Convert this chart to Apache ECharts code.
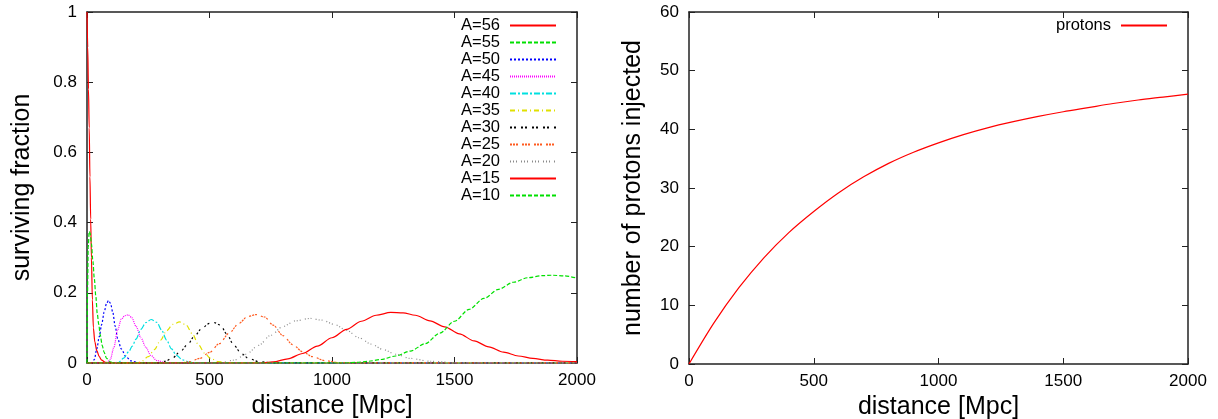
<!DOCTYPE html>
<html>
<head>
<meta charset="utf-8">
<script src="https://cdn.jsdelivr.net/npm/echarts@6/dist/echarts.min.js"></script>
<style>
  html, body { margin: 0; padding: 0; background: #fff; }
  #chart { width: 1218px; height: 419px; }
</style>
</head>
<body>
<div id="chart"></div>
<script>
// surviving fraction vs distance, [distance, fraction]
const a56 = [[0,1],[3,0.9],[6,0.78],[9,0.67],[12,0.53],[15,0.41],[18,0.3],[22,0.18],[26,0.1],[32,0.06],[40,0.035],[50,0.018],[60,0.008],[75,0.002],[100,0],[2000,0]];
const a55 = [[0,0],[2,0.2],[5,0.33],[9,0.375],[13,0.37],[18,0.34],[24,0.29],[30,0.24],[36,0.19],[42,0.14],[48,0.11],[54,0.08],[62,0.05],[70,0.03],[80,0.013],[95,0.003],[110,0],[2000,0]];
const a50 = [[0,0],[20,0],[30,0.01],[40,0.04],[50,0.075],[60,0.11],[70,0.145],[80,0.17],[88,0.178],[96,0.17],[105,0.145],[115,0.105],[125,0.07],[140,0.04],[160,0.017],[180,0.006],[210,0.001],[240,0],[2000,0]];
const a45 = [[0,0],[80,0],[95,0.01],[110,0.045],[125,0.095],[140,0.125],[155,0.135],[168,0.137],[182,0.13],[200,0.105],[220,0.072],[240,0.045],[260,0.022],[285,0.007],[320,0.001],[350,0],[2000,0]];
const a40 = [[0,0],[110,0],[130,0.003],[150,0.014],[170,0.032],[185,0.048],[200,0.068],[220,0.096],[240,0.115],[262,0.124],[285,0.116],[305,0.093],[325,0.065],[345,0.04],[365,0.022],[390,0.009],[420,0.002],[460,0],[2000,0]];
const a35 = [[0,0],[200,0],[220,0.003],[250,0.018],[275,0.038],[300,0.065],[325,0.092],[350,0.11],[378,0.117],[405,0.108],[430,0.083],[455,0.052],[480,0.028],[505,0.013],[535,0.004],[580,0],[2000,0]];
const a30 = [[0,0],[290,0],[320,0.005],[350,0.015],[380,0.032],[410,0.052],[440,0.078],[470,0.1],[500,0.113],[520,0.115],[545,0.108],[570,0.083],[600,0.05],[630,0.027],[660,0.013],[700,0.004],[760,0],[2000,0]];
const a25 = [[0,0],[380,0],[420,0.004],[460,0.013],[500,0.03],[540,0.055],[580,0.085],[620,0.113],[655,0.132],[690,0.138],[725,0.131],[760,0.108],[800,0.078],[840,0.052],[880,0.032],[920,0.018],[970,0.007],[1030,0.001],[1080,0],[2000,0]];
const a20 = [[0,0],[540,0],[600,0.008],[650,0.025],[700,0.05],[750,0.079],[800,0.104],[850,0.12],[910,0.127],[960,0.122],[1010,0.11],[1060,0.093],[1110,0.072],[1160,0.054],[1210,0.038],[1260,0.025],[1320,0.013],[1400,0.005],[1500,0.001],[1560,0],[2000,0]];
const a15 = [[0,0],[700,0],[760,0.003],[820,0.012],[880,0.027],[940,0.048],[1000,0.072],[1060,0.096],[1120,0.119],[1180,0.136],[1240,0.144],[1290,0.143],[1340,0.136],[1400,0.12],[1460,0.103],[1520,0.083],[1580,0.063],[1640,0.046],[1700,0.031],[1760,0.02],[1820,0.013],[1880,0.008],[1940,0.005],[2000,0.004]];
const a10 = [[0,0],[1050,0],[1100,0.002],[1150,0.005],[1200,0.01],[1260,0.02],[1320,0.034],[1380,0.055],[1440,0.085],[1500,0.119],[1560,0.153],[1620,0.184],[1680,0.21],[1740,0.23],[1800,0.243],[1860,0.249],[1900,0.25],[1950,0.248],[2000,0.242]];

// protons injected vs distance
const protonDist = [0,100,200,300,400,500,600,700,800,900,1000,1100,1200,1300,1400,1500,1600,1700,1800,1900,2000];
const protonCount = [0,7.0,13.0,18.1,22.4,26.0,29.2,31.9,34.2,36.1,37.7,39.1,40.3,41.3,42.2,43.0,43.7,44.4,45.0,45.5,46.0];

const nucleiNames = ['A=56','A=55','A=50','A=45','A=40','A=35','A=30','A=25','A=20','A=15','A=10'];
const nucleiData = [a56, a55, a50, a45, a40, a35, a30, a25, a20, a15, a10];
const nucleiColors = ['#ff0000','#00e000','#0000ff','#ff00ff','#00e0e0','#e0e000','#000000','#ff5a1e','#8a8a8a','#ff0000','#00e000'];
const nucleiDash = ['solid',[4,2],[2,2],[1,1],[6,2,2,2],[5,3,1,3],[2,2,2,5],[2,1,2,1,2,4],[1,2,1,2,1,4],'solid',[4,2]];

const FONT = '"Liberation Sans", Arial, sans-serif';

const xAxis = (grid, pos, label) => ({
  type: 'value', gridIndex: grid, position: pos, min: 0, max: 2000, interval: 500,
  name: label ? 'distance [Mpc]' : '', nameLocation: 'middle', nameGap: 29,
  nameTextStyle: { fontSize: 25, color: '#000', fontFamily: FONT },
  axisLine: { show: true, onZero: false, lineStyle: { color: '#222', width: 1.5 } },
  axisTick: { show: true, inside: true, length: 6, lineStyle: { color: '#222' } },
  axisLabel: { show: label, fontSize: 17, color: '#000', fontFamily: FONT, margin: 9, formatter: v => String(v) },
  splitLine: { show: false }
});

const yAxis = (grid, pos, label, max, interval, name, gap) => ({
  type: 'value', gridIndex: grid, position: pos, min: 0, max: max, interval: interval,
  name: label ? name : '', nameLocation: 'middle', nameGap: gap,
  nameTextStyle: { fontSize: 25, color: '#000', fontFamily: FONT },
  axisLine: { show: true, onZero: false, lineStyle: { color: '#222', width: 1.5 } },
  axisTick: { show: true, inside: true, length: 6, lineStyle: { color: '#222' } },
  axisLabel: { show: label, fontSize: 17, color: '#000', fontFamily: FONT, margin: 10, formatter: v => String(v) },
  splitLine: { show: false }
});

const series = nucleiNames.map((name, i) => ({
  name: name, type: 'line', xAxisIndex: 0, yAxisIndex: 0,
  data: nucleiData[i], symbol: 'none', smooth: 0.3, smoothMonotone: 'x', clip: true,
  lineStyle: { color: nucleiColors[i], width: 1.2, type: nucleiDash[i] },
  itemStyle: { color: nucleiColors[i] }
}));

series.push({
  name: 'protons', type: 'line', xAxisIndex: 2, yAxisIndex: 2,
  data: protonDist.map((d, i) => [d, protonCount[i]]),
  symbol: 'none', smooth: 0.3,
  lineStyle: { color: '#ff0000', width: 1.2 },
  itemStyle: { color: '#ff0000' }
});

const legendBase = {
  orient: 'vertical', top: 17, padding: 0, align: 'right',
  itemWidth: 46, itemHeight: 12, itemGap: 0, selectedMode: false,
  itemStyle: { opacity: 0 },
  textStyle: { fontSize: 16.5, color: '#000', fontFamily: FONT, padding: [0, 5, 0, 0] }
};

const chart = echarts.init(document.getElementById('chart'), null, { renderer: 'canvas' });
chart.setOption({
  animation: false,
  backgroundColor: '#fff',
  grid: [
    { left: 87, top: 12, width: 490, height: 351, outerBoundsMode: 'none', containLabel: false },
    { left: 689, top: 12, width: 499, height: 352, outerBoundsMode: 'none', containLabel: false }
  ],
  xAxis: [xAxis(0, 'bottom', true), xAxis(0, 'top', false), xAxis(1, 'bottom', true), xAxis(1, 'top', false)],
  yAxis: [
    yAxis(0, 'left', true, 1, 0.2, 'surviving fraction', 52.5),
    yAxis(0, 'right', false, 1, 0.2, '', 0),
    yAxis(1, 'left', true, 60, 10, 'number of protons injected', 43.5),
    yAxis(1, 'right', false, 60, 10, '', 0)
  ],
  legend: [
    Object.assign({}, legendBase, { data: nucleiNames, right: 661 }),
    Object.assign({}, legendBase, { data: ['protons'], right: 50 })
  ],
  series: series
});
</script>
</body>
</html>
